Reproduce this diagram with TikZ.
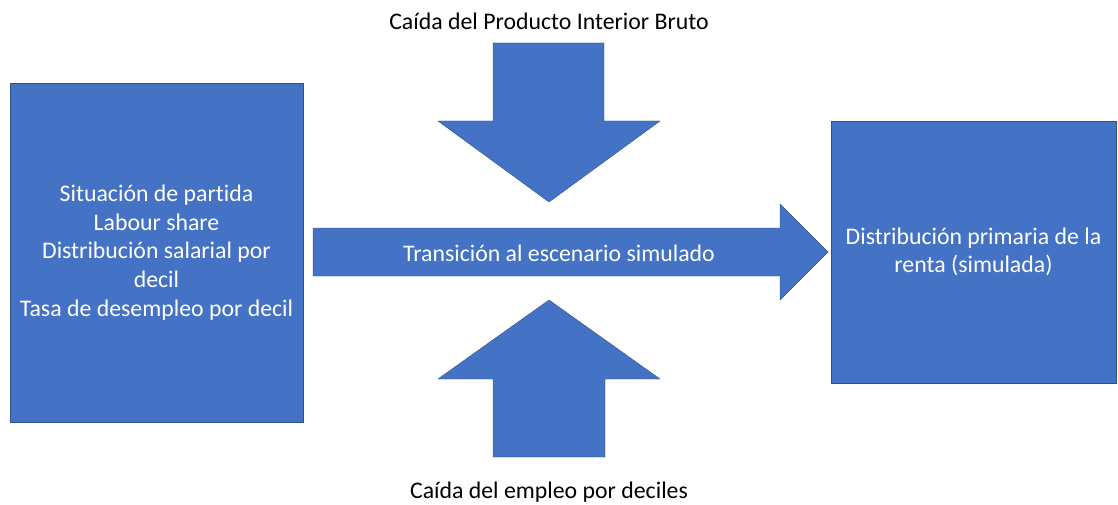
\documentclass[tikz,border=0pt]{standalone}
\usepackage{fontspec}
\setmainfont[Ligatures=NoCommon]{Carlito}
\usetikzlibrary{positioning}

\definecolor{officeblue}{HTML}{4472C4}
\definecolor{officeedge}{HTML}{2F528F}

\tikzset{
  box/.style={draw=officeedge, line width=0.6pt, fill=officeblue, text=white,
    align=center, inner sep=0pt, font=\fontsize{23.8}{28.7}\selectfont},
  blockarrow/.style={draw=officeedge, line width=0.4pt, fill=officeblue},
  caption/.style={font=\fontsize{23.8}{28}\selectfont, text=black}
}

\begin{document}
\begin{tikzpicture}[x=1pt, y=-1pt]
\useasboundingbox (0,0) rectangle (1118,505);

\node[box, minimum width=293pt, minimum height=339pt] at (156.5,252.5) (partida)
  {Situación de partida\\Labour share\\Distribución salarial por\\decil\\Tasa de desempleo por decil};
\node[box, minimum width=285pt, minimum height=262pt] at (973.5,252) (renta)
  {Distribución primaria de la\\renta (simulada)};

% flecha central
\draw[blockarrow] (313,228) -- (780,228) -- (780,204) -- (828,252)
  -- (780,300) -- (780,276) -- (313,276) -- cycle;
\node[text=white, font=\fontsize{23.8}{28}\selectfont] at (559,253) (transicion)
  {Transición al escenario simulado};

% flechas verticales
\draw[blockarrow] (493,43) -- (604,43) -- (604,121) -- (660,121)
  -- (549,202) -- (438,121) -- (493,121) -- cycle;
\draw[blockarrow] (549,300) -- (660,379) -- (605,379) -- (605,457)
  -- (493,457) -- (493,379) -- (438,379) -- cycle;

\node[caption] at (549,21) (pib) {Caída del Producto Interior Bruto};
\node[caption] at (549,492) (empleo) {Caída del empleo por deciles};

\end{tikzpicture}
\end{document}
